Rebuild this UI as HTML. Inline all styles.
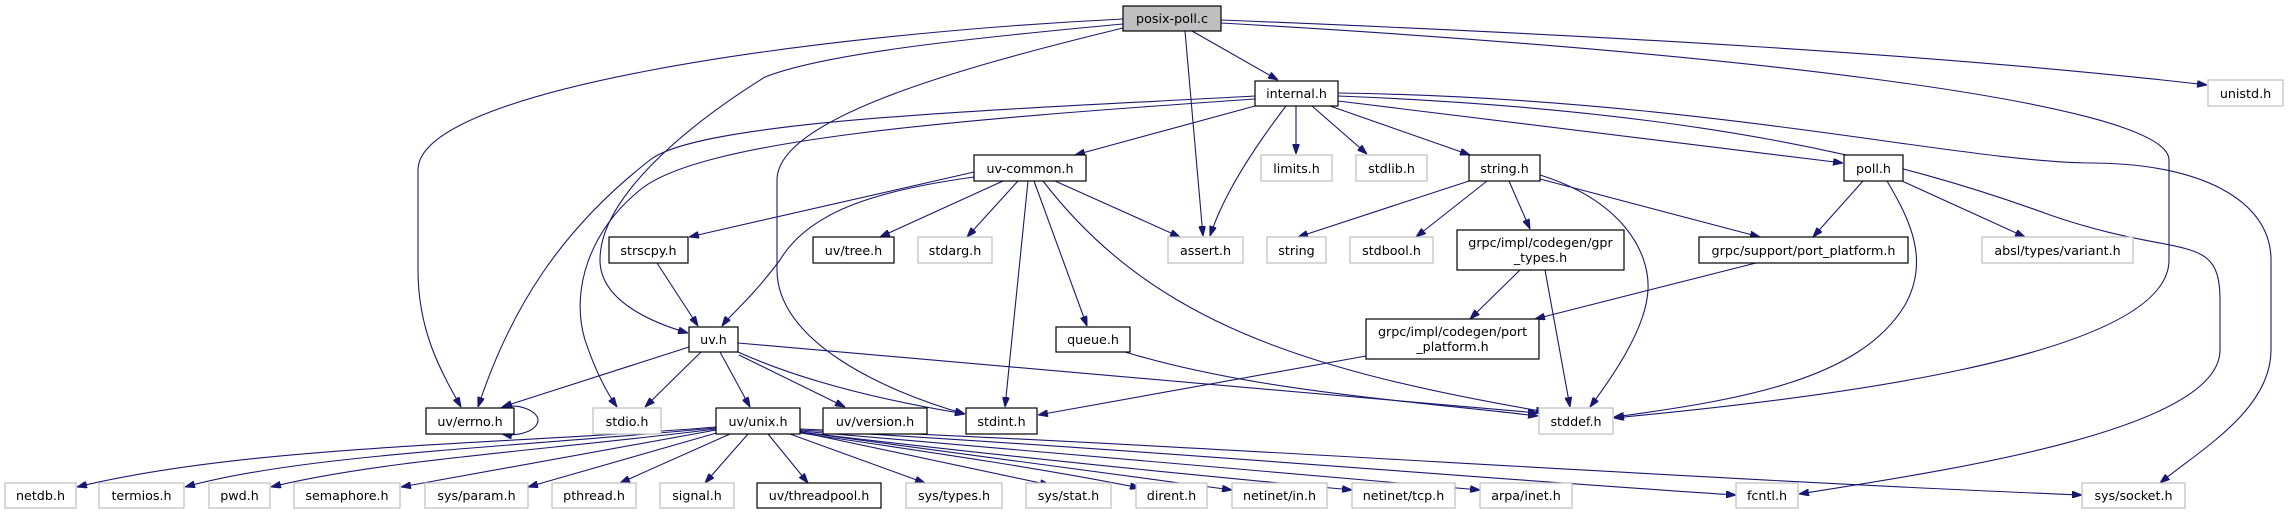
<!DOCTYPE html>
<html><head><meta charset="utf-8"><style>
html,body{margin:0;padding:0;background:#fff;}
svg{display:block;}
text{font-family:"DejaVu Sans","Liberation Sans",sans-serif;font-size:12.7px;fill:#000;text-anchor:middle;}
.b{fill:#fff;stroke:#000;stroke-width:1.2;}
.g{fill:#fff;stroke:#bfbfbf;stroke-width:1.2;}
path{fill:none;stroke:#191970;stroke-width:1.1;}
</style></head><body>
<svg width="2289" height="515" viewBox="0 0 2289 515" xmlns="http://www.w3.org/2000/svg">
<defs><marker id="a" viewBox="0 0 10 7" refX="10" refY="3.5" markerWidth="10" markerHeight="7" markerUnits="userSpaceOnUse" orient="auto"><path d="M0,0 L10,3.5 L0,7 Z" style="fill:#191970;stroke:#191970;stroke-width:1"/></marker></defs>
<g marker-end="url(#a)">
<!-- posix-poll.c -->
<path d="M1123,19 C800,35 418,90 418,170 L418,270 C418,330 440,370 461,407"/>
<path d="M1123,24 C950,40 820,55 765,77 C680,130 600,200 600,260 C600,300 650,322 688,333"/>
<path d="M1123,28 C950,70 777,120 777,180 L777,270 C777,340 880,390 965,414"/>
<path d="M1185,31 L1203,236"/>
<path d="M1192,31 L1278,80"/>
<path d="M1221,20 C1600,35 1950,55 2207,85"/>
<path d="M1221,23 C1700,50 2169,100 2169,160 L2169,260 C2169,360 1800,400 1614,418"/>
<!-- internal.h -->
<path d="M1255,106 L1075,155"/>
<path d="M1286,106 C1260,140 1225,190 1210,236"/>
<path d="M1296,106 L1296,154"/>
<path d="M1312,106 L1367,154"/>
<path d="M1330,106 L1470,155"/>
<path d="M1338,101 L1843,163"/>
<path d="M1255,96 C1000,110 700,120 650,160 C560,230 510,310 478,407"/>
<path d="M1255,99 C950,120 700,140 640,190 C590,230 570,290 585,340 C595,370 605,390 617,407"/>
<path d="M1338,96 C1700,110 1900,160 2050,215 C2180,260 2220,230 2220,300 L2220,350 C2220,430 1950,470 1799,494"/>
<path d="M1338,93 C1700,98 1960,162 2090,163 C2200,163 2271,200 2271,260 L2271,350 C2271,410 2200,450 2160,483"/>
<!-- uv-common.h -->
<path d="M974,172 L689,237"/>
<path d="M974,177 C880,190 810,210 780,260 C750,300 730,315 722,326"/>
<path d="M1003,181 L880,237"/>
<path d="M1018,181 L967,237"/>
<path d="M1028,181 L1005,407"/>
<path d="M1034,181 L1087,326"/>
<path d="M1055,181 L1180,237"/>
<path d="M1043,181 C1150,320 1300,370 1546,412"/>
<!-- strscpy -->
<path d="M657,263 L698,326"/>
<!-- uv.h -->
<path d="M689,347 L502,407"/>
<path d="M701,352 L645,407"/>
<path d="M720,352 L750,407"/>
<path d="M739,355 L845,407"/>
<path d="M738,352 C800,380 880,400 965,414"/>
<path d="M738,343 L1538,413"/>
<path d="M500,408 C520,402 538,412 538,420 C538,430 520,437 502,434"/>
<!-- queue -->
<path d="M1125,352 C1250,390 1400,400 1538,416"/>
<!-- grpc impl port_platform -->
<path d="M1366,356 L1038,415"/>
<!-- gpr_types -->
<path d="M1520,270 L1470,319"/>
<path d="M1545,270 L1570,407"/>
<!-- string.h -->
<path d="M1469,181 L1298,237"/>
<path d="M1487,181 L1416,237"/>
<path d="M1509,181 L1530,229"/>
<path d="M1540,179 L1760,237"/>
<path d="M1540,175 C1620,200 1650,250 1648,290 C1646,330 1610,380 1590,407"/>
<!-- poll.h -->
<path d="M1863,181 L1813,237"/>
<path d="M1887,181 C1910,220 1930,260 1905,305 C1860,380 1740,400 1614,417"/>
<path d="M1902,181 L2025,237"/>
<!-- grpc support -->
<path d="M1756,263 L1535,319"/>
<!-- uv/unix.h -->
<path d="M716,427 C500,445 250,445 77,487"/>
<path d="M716,428 C500,448 300,455 185,487"/>
<path d="M716,429 C550,450 380,460 271,487"/>
<path d="M716,430 L401,487"/>
<path d="M720,432 L528,487"/>
<path d="M730,434 L620,483"/>
<path d="M748,434 L705,483"/>
<path d="M768,434 L808,483"/>
<path d="M790,434 L925,483"/>
<path d="M800,432 L1050,485"/>
<path d="M800,433 C950,455 1050,470 1140,488"/>
<path d="M800,432 C1000,460 1150,478 1232,490"/>
<path d="M800,432 C1050,462 1250,480 1352,490"/>
<path d="M800,431 C1100,458 1350,478 1480,490"/>
<path d="M800,430 C1150,450 1500,480 1736,495"/>
<path d="M800,429 C1200,445 1700,480 2082,495"/>
</g>
<!-- nodes -->
<rect x="1123" y="6" width="98" height="25" style="fill:#bfbfbf;stroke:#000;stroke-width:1.2"/><text x="1172" y="23">posix-poll.c</text>
<rect class="b" x="1255" y="81" width="83" height="25"/><text x="1296.5" y="98">internal.h</text>
<rect class="g" x="2208" y="80" width="75" height="26"/><text x="2245.5" y="98">unistd.h</text>
<rect class="b" x="974" y="155" width="112" height="26"/><text x="1030" y="173">uv-common.h</text>
<rect class="g" x="1261" y="155" width="71" height="26"/><text x="1296.5" y="173">limits.h</text>
<rect class="g" x="1356" y="155" width="71" height="26"/><text x="1391.5" y="173">stdlib.h</text>
<rect class="b" x="1469" y="155" width="71" height="26"/><text x="1504.5" y="173">string.h</text>
<rect class="b" x="1844" y="155" width="59" height="26"/><text x="1873.5" y="173">poll.h</text>
<rect class="b" x="609" y="237" width="79" height="26"/><text x="648.5" y="255">strscpy.h</text>
<rect class="b" x="813" y="237" width="81" height="26"/><text x="853.5" y="255">uv/tree.h</text>
<rect class="g" x="918" y="237" width="74" height="26"/><text x="955" y="255">stdarg.h</text>
<rect class="g" x="1168" y="237" width="75" height="26"/><text x="1205.5" y="255">assert.h</text>
<rect class="g" x="1267" y="237" width="59" height="26"/><text x="1296.5" y="255">string</text>
<rect class="g" x="1350" y="237" width="83" height="26"/><text x="1391.5" y="255">stdbool.h</text>
<rect class="b" x="1457" y="230" width="167" height="40"/><text x="1540.5" y="247">grpc/impl/codegen/gpr</text><text x="1540.5" y="262">_types.h</text>
<rect class="b" x="1699" y="237" width="209" height="26"/><text x="1803.5" y="255">grpc/support/port_platform.h</text>
<rect class="g" x="1982" y="237" width="151" height="26"/><text x="2057.5" y="255">absl/types/variant.h</text>
<rect class="b" x="689" y="327" width="49" height="25"/><text x="713.5" y="344">uv.h</text>
<rect class="b" x="1056" y="327" width="74" height="25"/><text x="1093" y="344">queue.h</text>
<rect class="b" x="1366" y="319" width="173" height="40"/><text x="1452.5" y="336">grpc/impl/codegen/port</text><text x="1452.5" y="351">_platform.h</text>
<rect class="b" x="426" y="408" width="88" height="26"/><text x="470" y="426">uv/errno.h</text>
<rect class="g" x="593" y="408" width="68" height="26"/><text x="627" y="426">stdio.h</text>
<rect class="b" x="716" y="408" width="84" height="26"/><text x="758" y="426">uv/unix.h</text>
<rect class="b" x="823" y="408" width="104" height="26"/><text x="875" y="426">uv/version.h</text>
<rect class="b" x="966" y="408" width="71" height="26"/><text x="1001.5" y="426">stdint.h</text>
<rect class="g" x="1539" y="408" width="74" height="26"/><text x="1576" y="426">stddef.h</text>
<rect class="g" x="5" y="483" width="71" height="25"/><text x="40.5" y="500">netdb.h</text>
<rect class="g" x="99" y="483" width="85" height="25"/><text x="141.5" y="500">termios.h</text>
<rect class="g" x="209" y="483" width="61" height="25"/><text x="239.5" y="500">pwd.h</text>
<rect class="g" x="294" y="483" width="106" height="25"/><text x="347" y="500">semaphore.h</text>
<rect class="g" x="425" y="483" width="103" height="25"/><text x="476.5" y="500">sys/param.h</text>
<rect class="g" x="552" y="483" width="84" height="25"/><text x="594" y="500">pthread.h</text>
<rect class="g" x="660" y="483" width="74" height="25"/><text x="697" y="500">signal.h</text>
<rect class="b" x="757" y="483" width="124" height="25"/><text x="819" y="500">uv/threadpool.h</text>
<rect class="g" x="906" y="483" width="96" height="25"/><text x="954" y="500">sys/types.h</text>
<rect class="g" x="1026" y="483" width="85" height="25"/><text x="1068.5" y="500">sys/stat.h</text>
<rect class="g" x="1136" y="483" width="71" height="25"/><text x="1171.5" y="500">dirent.h</text>
<rect class="g" x="1232" y="483" width="95" height="25"/><text x="1279.5" y="500">netinet/in.h</text>
<rect class="g" x="1352" y="483" width="103" height="25"/><text x="1403.5" y="500">netinet/tcp.h</text>
<rect class="g" x="1480" y="483" width="92" height="25"/><text x="1526" y="500">arpa/inet.h</text>
<rect class="g" x="1736" y="483" width="62" height="25"/><text x="1767" y="500">fcntl.h</text>
<rect class="g" x="2082" y="483" width="103" height="25"/><text x="2133.5" y="500">sys/socket.h</text>
</svg>
</body></html>
